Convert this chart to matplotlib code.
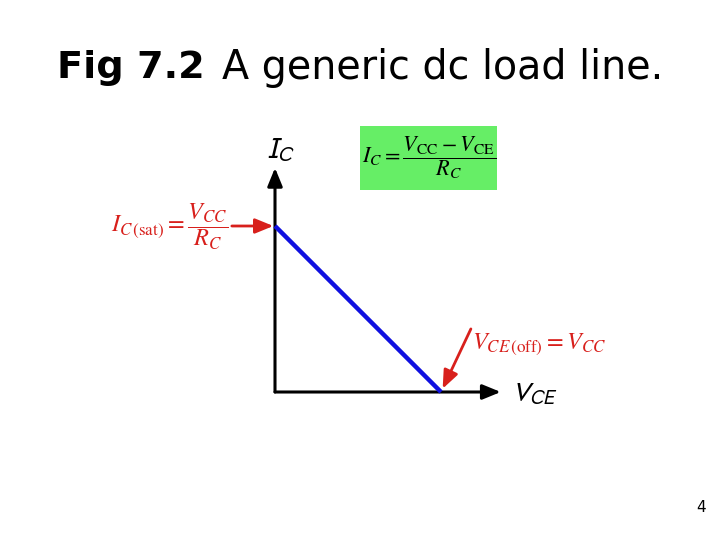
import matplotlib
matplotlib.use("Agg")
import matplotlib.pyplot as plt
from matplotlib.patches import Rectangle

# Data: load line end points (normalized)
vce = [0.0, 1.0]      # V_CE values: 0 and V_CC
ic = [1.0, 0.0]       # I_C values: I_C(sat) and 0

plt.rcParams['mathtext.fontset'] = 'stix'

W, H = 720, 540
fig = plt.figure(figsize=(7.2, 5.4), dpi=100)
fig.patch.set_facecolor('white')

# overlay axes in pixel coords for text
bg = fig.add_axes([0, 0, 1, 1])
bg.set_xlim(0, W)
bg.set_ylim(H, 0)
bg.axis('off')

# chart axes: origin at pixel (275, 392), 166 px per unit
ox, oy, s = 275, 392, 166
ax = fig.add_axes([ox / W, (H - oy) / H, s / W, s / H])
ax.set_xlim(0, 1)
ax.set_ylim(0, 1)
ax.axis('off')

red = '#d8201c'
# axes arrows
ax.annotate('', xy=(1.36, 0), xytext=(0, 0),
            arrowprops=dict(arrowstyle='-|>,head_length=1.1,head_width=0.45', color='black', lw=2.2,
                            shrinkA=0, shrinkB=0), annotation_clip=False)
ax.annotate('', xy=(0, 1.35), xytext=(0, 0),
            arrowprops=dict(arrowstyle='-|>,head_length=1.1,head_width=0.45', color='black', lw=2.2,
                            shrinkA=0, shrinkB=0), annotation_clip=False)

# load line
ax.plot(vce, ic, color='#1010e0', lw=3.2, solid_capstyle='butt', clip_on=False, zorder=3)

# red arrows
ax.annotate('', xy=(-0.01, 1.0), xytext=(-0.26, 1.0),
            arrowprops=dict(arrowstyle='-|>,head_length=1.1,head_width=0.45', color=red, lw=2.0,
                            shrinkA=0, shrinkB=0), annotation_clip=False)
ax.annotate('', xy=(1.01, 0.02), xytext=(1.18, 0.38),
            arrowprops=dict(arrowstyle='-|>,head_length=1.1,head_width=0.45', color=red, lw=2.0,
                            shrinkA=0, shrinkB=0), annotation_clip=False)

# title
bg.text(57, 68, 'Fig 7.2', fontsize=27.5, fontweight='bold', family='DejaVu Sans',
        va='center', ha='left')
bg.text(222, 68, 'A generic dc load line.', fontsize=28.5, family='DejaVu Sans',
        va='center', ha='left')

# axis labels
bg.text(266, 150, r'$\mathsf{I}_{\mathsf{C}}$', fontsize=21, va='center', ha='left')
bg.text(511, 393, r'$\mathsf{V}_{\mathsf{CE}}$', fontsize=20, va='center', ha='left')

# green formula box
bg.add_patch(Rectangle((360, 126), 137, 64, facecolor='#66ee66', edgecolor='none'))
bg.text(429, 158, r'$I_C = \dfrac{V_{\mathrm{CC}} - V_{\mathrm{CE}}}{R_C}$', fontsize=16,
        va='center', ha='center')

# I_C(sat) label
bg.text(170, 227, r'$I_{C\,(\mathrm{sat})} = \dfrac{V_{CC}}{R_C}$', fontsize=17.5, color=red,
        va='center', ha='center')

# V_CE(off) label
bg.text(539, 344, r'$V_{CE\,(\mathrm{off})} = V_{CC}$', fontsize=17.5, color=red,
        va='center', ha='center')

# page number
bg.text(701, 508, '4', fontsize=11, va='center', ha='center', family='DejaVu Sans')

fig.savefig('out.png', dpi=100, facecolor='white')
